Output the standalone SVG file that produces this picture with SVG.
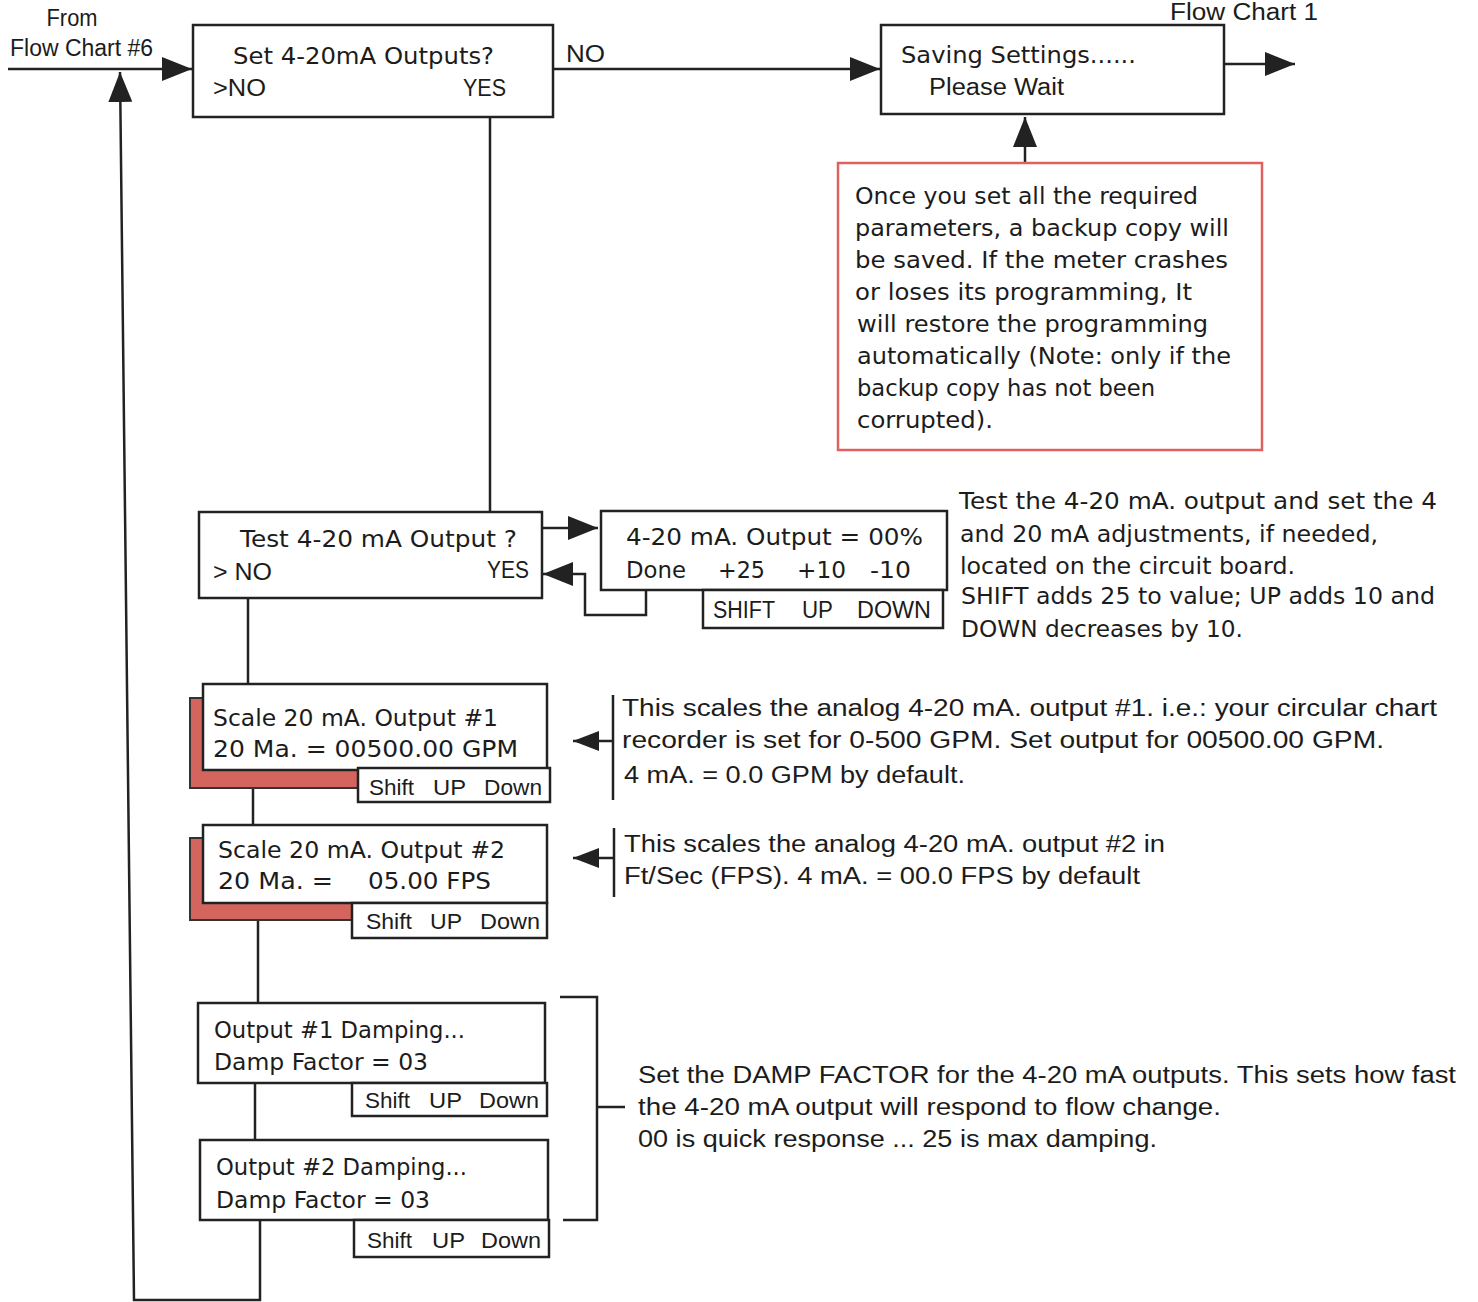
<svg xmlns="http://www.w3.org/2000/svg" width="1478" height="1302" viewBox="0 0 1478 1302" xml:space="preserve">
<defs>
<marker id="ah" viewBox="0 0 30 24" refX="30" refY="12" markerWidth="30" markerHeight="24" markerUnits="userSpaceOnUse" orient="auto"><path d="M0,0 L30,12 L0,24 z" fill="#222"/></marker>
<marker id="ahs" viewBox="0 0 26 20" refX="26" refY="10" markerWidth="26" markerHeight="20" markerUnits="userSpaceOnUse" orient="auto"><path d="M0,0 L26,10 L0,20 z" fill="#222"/></marker>
<style>
.box{fill:#fff;stroke:#222;stroke-width:2.5}
.shadow{fill:#d4645e;stroke:#333;stroke-width:2}
.note{fill:#fff;stroke:#e06060;stroke-width:2.5}
.ln{fill:none;stroke:#222;stroke-width:2.5}
.t{font-family:"DejaVu Sans","Noto Sans",sans-serif;font-size:23px;fill:#1c1c1c}
.s{font-family:"Liberation Sans",Arial,sans-serif;font-size:22px;fill:#1c1c1c}
.n{font-family:"Liberation Sans",Arial,sans-serif;font-size:23px;fill:#1c1c1c}
</style>
</defs>
<g id="connectors">
<path class="ln" d="M8,69 H192" marker-end="url(#ah)"/>
<path class="ln" d="M553,69 H880" marker-end="url(#ah)"/>
<path class="ln" d="M1224,64 H1295" marker-end="url(#ah)"/>
<path class="ln" d="M1025,163 V117" marker-end="url(#ah)"/>
<path class="ln" d="M490,117 V512"/>
<path class="ln" d="M542,528 H598" marker-end="url(#ah)"/>
<path class="ln" d="M646,590 V615 H585 V574 H543" marker-end="url(#ah)"/>
<path class="ln" d="M248,598 V686"/>
<path class="ln" d="M253,770 V826"/>
<path class="ln" d="M258,903 V1003"/>
<path class="ln" d="M255,1083 V1140"/>
<path class="ln" d="M260,1220 V1300 H134 L120,72" marker-end="url(#ah)"/>
<path class="ln" d="M613,695 V800 M613,741 H573" marker-end="url(#ahs)"/>
<path class="ln" d="M614,828 V897 M614,858 H573" marker-end="url(#ahs)"/>
<path class="ln" d="M560,997 H597 V1220 H563 M597,1107 H625"/>
</g>
<g id="from-label">
<text class="n" x="72" y="26" text-anchor="middle" textLength="51" lengthAdjust="spacingAndGlyphs">From</text>
<text class="n" x="10" y="56" textLength="143" lengthAdjust="spacingAndGlyphs">Flow Chart #6</text>
</g>
<g id="to-label">
<text class="n" x="1170" y="20" font-size="20" textLength="148" lengthAdjust="spacingAndGlyphs">Flow Chart 1</text>
</g>
<g id="no-label"><text class="n" x="566" y="62" textLength="39" lengthAdjust="spacingAndGlyphs">NO</text></g>
<g id="set-outputs">
<rect class="box" x="193" y="25" width="360" height="92"/>
<text class="t" x="233" y="64" textLength="261" lengthAdjust="spacingAndGlyphs">Set 4-20mA Outputs?</text>
<text class="n" x="213" y="96" textLength="53" lengthAdjust="spacingAndGlyphs">&gt;NO</text>
<text class="n" x="463" y="96" textLength="43" lengthAdjust="spacingAndGlyphs">YES</text>
</g>
<g id="saving">
<rect class="box" x="881" y="25" width="343" height="89"/>
<text class="t" x="901" y="63" textLength="235" lengthAdjust="spacingAndGlyphs">Saving Settings......</text>
<text class="n" x="929" y="95" textLength="135" lengthAdjust="spacingAndGlyphs">Please Wait</text>
</g>
<g id="backup-note">
<rect class="note" x="838" y="163" width="424" height="287"/>
<text class="t" x="855" y="204" textLength="343" lengthAdjust="spacingAndGlyphs">Once you set all the required</text>
<text class="t" x="855" y="236" textLength="374" lengthAdjust="spacingAndGlyphs">parameters, a backup copy will</text>
<text class="t" x="855" y="268" textLength="373" lengthAdjust="spacingAndGlyphs">be saved.  If the meter crashes</text>
<text class="t" x="855" y="300" textLength="337" lengthAdjust="spacingAndGlyphs">or loses its programming, It</text>
<text class="t" x="857" y="332" textLength="351" lengthAdjust="spacingAndGlyphs">will restore the programming</text>
<text class="t" x="857" y="364" textLength="374" lengthAdjust="spacingAndGlyphs">automatically (Note: only if the</text>
<text class="t" x="857" y="396" textLength="298" lengthAdjust="spacingAndGlyphs">backup copy has not been</text>
<text class="t" x="857" y="428" textLength="136" lengthAdjust="spacingAndGlyphs">corrupted).</text>
</g>
<g id="test-output">
<rect class="box" x="199" y="512" width="343" height="86"/>
<text class="t" x="240" y="547" textLength="277" lengthAdjust="spacingAndGlyphs">Test 4-20 mA Output ?</text>
<text class="n" x="213" y="580" textLength="59" lengthAdjust="spacingAndGlyphs">&gt; NO</text>
<text class="n" x="487" y="578" textLength="42" lengthAdjust="spacingAndGlyphs">YES</text>
</g>
<g id="output-value">
<rect class="box" x="601" y="511" width="346" height="79"/>
<text class="t" x="626" y="545" textLength="297" lengthAdjust="spacingAndGlyphs">4-20 mA. Output =  00%</text>
<text class="t" x="626" y="578" textLength="60" lengthAdjust="spacingAndGlyphs">Done</text>
<text class="t" x="718" y="578" textLength="47" lengthAdjust="spacingAndGlyphs">+25</text>
<text class="t" x="797" y="578" textLength="49" lengthAdjust="spacingAndGlyphs">+10</text>
<text class="t" x="870" y="578" textLength="41" lengthAdjust="spacingAndGlyphs">-10</text>
<rect class="box" x="703" y="590" width="240" height="38"/>
<text class="n" x="713" y="618" textLength="62" lengthAdjust="spacingAndGlyphs">SHIFT</text>
<text class="n" x="802" y="618" textLength="31" lengthAdjust="spacingAndGlyphs">UP</text>
<text class="n" x="857" y="618" textLength="74" lengthAdjust="spacingAndGlyphs">DOWN</text>
</g>
<g id="test-note">
<text class="t" x="959" y="509" textLength="478" lengthAdjust="spacingAndGlyphs">Test the 4-20 mA. output and  set the 4</text>
<text class="t" x="960" y="542" textLength="418" lengthAdjust="spacingAndGlyphs">and 20 mA adjustments, if needed,</text>
<text class="t" x="960" y="574" textLength="335" lengthAdjust="spacingAndGlyphs">located on the circuit board.</text>
<text class="t" x="961" y="604" textLength="474" lengthAdjust="spacingAndGlyphs">SHIFT adds 25 to value; UP adds 10 and</text>
<text class="t" x="961" y="637" textLength="282" lengthAdjust="spacingAndGlyphs">DOWN decreases by 10.</text>
</g>
<g id="scale-1">
<rect class="shadow" x="190" y="698" width="340" height="90"/>
<rect class="box" x="203" y="684" width="344" height="86"/>
<text class="t" x="213" y="726" textLength="285" lengthAdjust="spacingAndGlyphs">Scale 20 mA. Output #1</text>
<text class="t" x="213" y="757" textLength="305" lengthAdjust="spacingAndGlyphs">20 Ma.  = 00500.00 GPM</text>
<rect class="box" x="358" y="768" width="192" height="34"/>
<text class="s" x="369" y="795" textLength="45" lengthAdjust="spacingAndGlyphs">Shift</text>
<text class="s" x="433" y="795" textLength="33" lengthAdjust="spacingAndGlyphs">UP</text>
<text class="s" x="484" y="795" textLength="58" lengthAdjust="spacingAndGlyphs">Down</text>
</g>
<g id="scale-1-note">
<text class="n" x="622" y="716" textLength="815" lengthAdjust="spacingAndGlyphs">This scales the analog 4-20 mA. output #1. i.e.: your circular chart</text>
<text class="n" x="622" y="748" textLength="762" lengthAdjust="spacingAndGlyphs">recorder is set for 0-500 GPM.  Set output for 00500.00 GPM.</text>
<text class="n" x="624" y="783" textLength="341" lengthAdjust="spacingAndGlyphs">4 mA. = 0.0 GPM by default.</text>
</g>
<g id="scale-2">
<rect class="shadow" x="190" y="838" width="340" height="82"/>
<rect class="box" x="203" y="825" width="344" height="78"/>
<text class="t" x="218" y="858" textLength="287" lengthAdjust="spacingAndGlyphs">Scale 20 mA. Output #2</text>
<text class="t" x="218" y="889" textLength="115" lengthAdjust="spacingAndGlyphs">20 Ma.  =</text>
<text class="t" x="368" y="889" textLength="123" lengthAdjust="spacingAndGlyphs">05.00 FPS</text>
<rect class="box" x="352" y="903" width="195" height="35"/>
<text class="s" x="366" y="929" textLength="46" lengthAdjust="spacingAndGlyphs">Shift</text>
<text class="s" x="430" y="929" textLength="32" lengthAdjust="spacingAndGlyphs">UP</text>
<text class="s" x="480" y="929" textLength="60" lengthAdjust="spacingAndGlyphs">Down</text>
</g>
<g id="scale-2-note">
<text class="n" x="624" y="852" textLength="541" lengthAdjust="spacingAndGlyphs">This scales the analog 4-20 mA. output #2 in</text>
<text class="n" x="624" y="884" textLength="516" lengthAdjust="spacingAndGlyphs">Ft/Sec (FPS). 4 mA. = 00.0 FPS by default</text>
</g>
<g id="damping-1">
<rect class="box" x="198" y="1003" width="347" height="80"/>
<text class="t" x="214" y="1038" textLength="251" lengthAdjust="spacingAndGlyphs">Output #1 Damping...</text>
<text class="t" x="214" y="1070" textLength="214" lengthAdjust="spacingAndGlyphs">Damp Factor = 03</text>
<rect class="box" x="352" y="1083" width="195" height="33"/>
<text class="s" x="365" y="1108" textLength="45" lengthAdjust="spacingAndGlyphs">Shift</text>
<text class="s" x="429" y="1108" textLength="33" lengthAdjust="spacingAndGlyphs">UP</text>
<text class="s" x="479" y="1108" textLength="60" lengthAdjust="spacingAndGlyphs">Down</text>
</g>
<g id="damping-2">
<rect class="box" x="200" y="1140" width="348" height="80"/>
<text class="t" x="216" y="1175" textLength="251" lengthAdjust="spacingAndGlyphs">Output #2 Damping...</text>
<text class="t" x="216" y="1208" textLength="214" lengthAdjust="spacingAndGlyphs">Damp Factor = 03</text>
<rect class="box" x="354" y="1220" width="195" height="37"/>
<text class="s" x="367" y="1248" textLength="45" lengthAdjust="spacingAndGlyphs">Shift</text>
<text class="s" x="432" y="1248" textLength="33" lengthAdjust="spacingAndGlyphs">UP</text>
<text class="s" x="481" y="1248" textLength="60" lengthAdjust="spacingAndGlyphs">Down</text>
</g>
<g id="damping-note">
<text class="n" x="638" y="1083" textLength="818" lengthAdjust="spacingAndGlyphs">Set the DAMP FACTOR for the 4-20 mA outputs.  This sets how fast</text>
<text class="n" x="638" y="1115" textLength="583" lengthAdjust="spacingAndGlyphs">the 4-20 mA output will respond to flow change.</text>
<text class="n" x="638" y="1147" textLength="519" lengthAdjust="spacingAndGlyphs">00 is quick response ... 25 is max damping.</text>
</g>
</svg>
